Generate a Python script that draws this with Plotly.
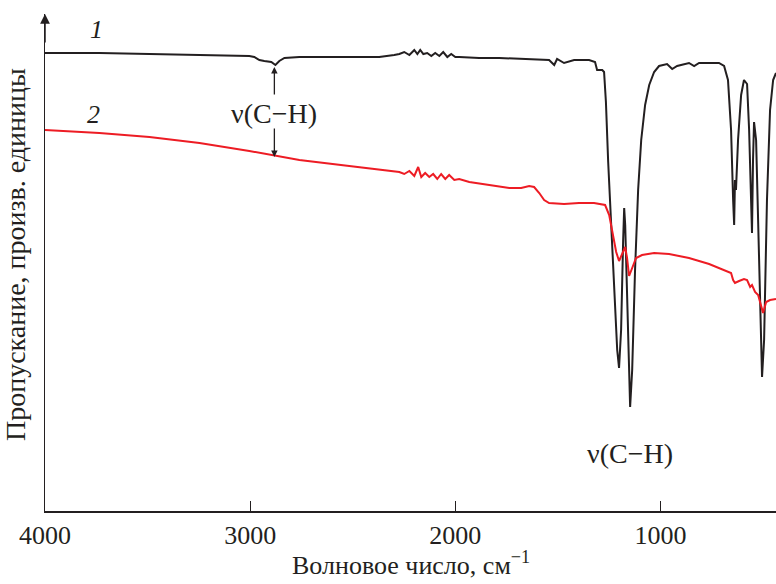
import plotly.graph_objects as go

# Spectrum 1 (black): wavenumber (cm^-1) and transmittance (arb. units)
wn1 = [4000, 3735, 3491, 3247, 3004, 2980, 2955, 2931, 2897, 2877, 2858, 2833, 2760, 2517, 2371, 2298,
       2273, 2249, 2224, 2200, 2185, 2171, 2156, 2137, 2117, 2098, 2078, 2059, 2039, 2020, 2000, 1981,
       1884, 1786, 1689, 1543, 1518, 1504, 1470, 1421, 1348, 1319, 1309, 1284, 1275, 1266, 1255, 1241, 1226,
       1211, 1202, 1192, 1182, 1177, 1172, 1163, 1153, 1148, 1138, 1124, 1109, 1094, 1075, 1055, 1031,
       1007, 968, 943, 919, 861, 836, 812, 715, 690, 671, 656, 646, 641, 637, 632, 622, 607, 593, 578,
       568, 559, 554, 549, 544, 534, 520, 505, 495, 481, 466, 451, 437]
t1 = [91.8, 91.8, 91.6, 91.4, 91.2, 91.0, 90.4, 90.2, 90.0, 89.4, 90.2, 90.8, 91.0, 91.0, 91.0, 91.4,
      91.6, 92.0, 91.4, 92.4, 91.6, 92.4, 91.6, 91.8, 91.2, 91.8, 91.2, 92.0, 91.0, 91.6, 91.0, 91.0,
      90.8, 90.8, 90.6, 90.4, 89.4, 90.6, 89.8, 90.4, 90.4, 90.0, 88.4, 88.4, 88.0, 82.0, 70.0, 58.0, 44.4,
      32.4, 28.8, 36.4, 54.4, 60.8, 57.4, 42.4, 26.4, 21.0, 28.4, 48.4, 64.4, 74.4, 81.4, 85.4, 88.0,
      89.2, 89.6, 88.6, 89.2, 89.8, 89.2, 89.8, 89.8, 89.2, 86.4, 76.4, 62.4, 57.4, 66.4, 64.4, 74.4,
      83.4, 86.4, 85.6, 76.4, 60.4, 55.8, 70.4, 78.0, 74.4, 48.4, 27.0, 34.4, 62.4, 80.4, 86.4, 87.8]

# Spectrum 2 (red)
wn2 = [4000, 3735, 3491, 3247, 3004, 2892, 2760, 2517, 2371, 2273, 2249, 2224, 2200, 2181, 2166, 2147,
       2127, 2108, 2088, 2069, 2049, 2030, 2005, 1981, 1932, 1835, 1737, 1679, 1640, 1616, 1591, 1567,
       1543, 1470, 1397, 1324, 1270, 1250, 1231, 1216, 1202, 1187, 1172, 1163, 1153, 1138, 1119, 1090,
       1031, 958, 861, 763, 690, 656, 646, 637, 617, 593, 578, 563, 554, 539, 524, 510, 500, 485, 466, 437]
t2 = [76.4, 75.8, 75.0, 73.8, 72.2, 71.4, 70.4, 69.2, 68.4, 68.0, 67.6, 68.2, 67.2, 69.0, 67.0, 67.8,
      67.0, 67.6, 66.6, 67.6, 66.6, 67.4, 66.4, 66.6, 66.0, 65.4, 64.8, 64.8, 65.2, 65.0, 63.8, 62.4,
      61.8, 61.6, 61.8, 61.8, 61.4, 59.4, 55.4, 52.0, 50.2, 51.8, 53.0, 50.8, 47.2, 48.8, 50.8, 51.4,
      51.8, 51.6, 50.8, 49.6, 48.4, 47.8, 46.4, 45.8, 46.2, 46.6, 46.4, 45.0, 45.4, 44.0, 43.4, 41.4,
      39.8, 42.0, 42.4, 42.6]

tick_vals = [4000, 3000, 2000, 1000]
tick_text = ["4000", "3000", "2000", "1000"]
curve_labels = ["1", "2"]
band_label = "ν(C−H)"
x_title = "Волновое число, см<sup>−1</sup>"
y_title = "Пропускание, произв. единицы"

FONT = "Liberation Serif"
INK = "#231f20"

fig = go.Figure()
fig.add_trace(go.Scatter(x=wn1, y=t1, mode="lines", line=dict(color=INK, width=2), showlegend=False,
                         hoverinfo="skip"))
fig.add_trace(go.Scatter(x=wn2, y=t2, mode="lines", line=dict(color="#ed1c24", width=2), showlegend=False,
                         hoverinfo="skip"))

fig.update_layout(
    width=776, height=584,
    margin=dict(l=45, r=0, t=14, b=73),
    paper_bgcolor="white", plot_bgcolor="white",
    font=dict(family=FONT, color=INK),
    xaxis=dict(
        range=[4000, 437], showgrid=False, zeroline=False, automargin=False,
        showline=True, linecolor=INK, linewidth=1.5,
        ticks="inside", ticklen=10, tickwidth=1.2, tickcolor=INK,
        tickvals=tick_vals, ticktext=tick_text,
        tickfont=dict(family=FONT, size=26, color=INK),
    ),
    yaxis=dict(
        range=[0.2, 99.6], showgrid=False, zeroline=False, automargin=False,
        showline=True, linecolor=INK, linewidth=1.5,
        showticklabels=False, ticks="",
    ),
)

# axis titles
fig.add_annotation(x=0.5, y=-0.068, xref="paper", yref="paper", yanchor="top", xanchor="center",
                   text=x_title, showarrow=False, font=dict(family=FONT, size=26, color=INK))
fig.add_annotation(x=-0.041, y=0.515, xref="paper", yref="paper", xanchor="center", yanchor="middle",
                   text=y_title, textangle=-90, showarrow=False, font=dict(family=FONT, size=28, color=INK))

# arrow at top of the y axis
fig.add_annotation(x=4000, y=99.6, xref="x", yref="y", ax=0, ay=30, showarrow=True,
                   arrowhead=2, arrowsize=1.3, arrowwidth=1.5, arrowcolor=INK, text="")

# curve numbers
fig.add_annotation(x=3749, y=96.6, text="<i>" + curve_labels[0] + "</i>", showarrow=False,
                   font=dict(family=FONT, size=26, color=INK))
fig.add_annotation(x=3764, y=79.6, text="<i>" + curve_labels[1] + "</i>", showarrow=False,
                   font=dict(family=FONT, size=26, color=INK))

# band labels
fig.add_annotation(x=2882, y=79.8, text=band_label, showarrow=False, font=dict(family=FONT, size=28, color=INK))
fig.add_annotation(x=1148, y=11.8, text=band_label, showarrow=False, font=dict(family=FONT, size=28, color=INK))

# arrows to the C-H bands
fig.add_annotation(x=2882, y=89.0, ax=0, ay=29, showarrow=True, text="",
                   arrowhead=2, arrowsize=1, arrowwidth=1.3, arrowcolor=INK)
fig.add_annotation(x=2882, y=71.0, ax=0, ay=-30, showarrow=True, text="",
                   arrowhead=2, arrowsize=1, arrowwidth=1.3, arrowcolor=INK)

fig.write_html("out.html", config={"displayModeBar": False, "staticPlot": True},
               post_script="document.body.style.margin='0';document.body.style.overflow='hidden';")
